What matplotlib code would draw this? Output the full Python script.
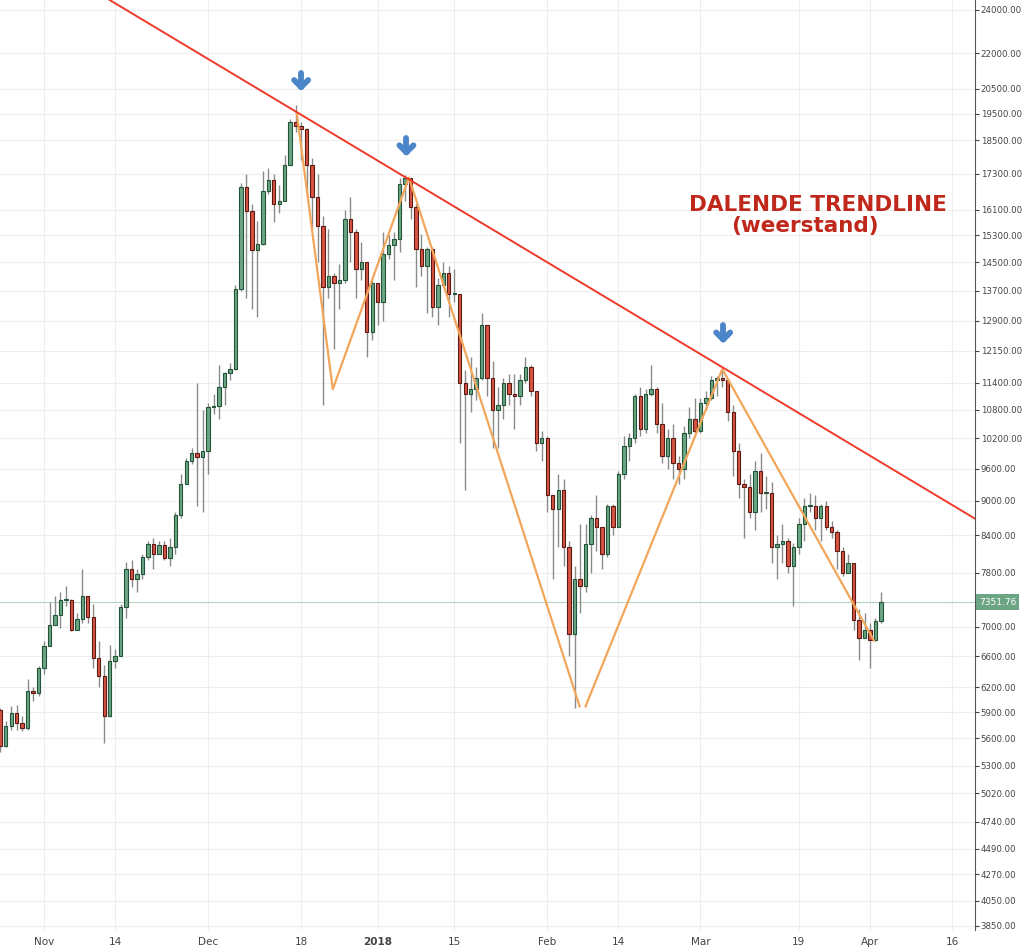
import matplotlib
matplotlib.use("Agg")
import matplotlib.pyplot as plt
import matplotlib.dates as mdates
from matplotlib.lines import Line2D
import numpy as np

start_date = "2017-10-24"
first_open = 5930
closes = [5520,5740,5890,5770,5720,6150,6130,6450,
 6740,7030,7160,7380,7380,6960,7110,7440,7130,6580,6340,5860,6540,6600,7280,7850,7700,7780,8040,8250,8100,8240,8030,8200,8750,9300,9740,9900,9830,9940,
 10860,10880,11290,11630,11720,13750,16850,16050,14850,15050,16700,17100,16300,16400,17600,19200,19040,18900,17600,16500,15600,13800,14100,13900,14000,15800,15400,14300,14500,12600,13900,
 13400,14750,15000,15200,16950,17150,16200,14900,14400,14900,13250,13850,14200,13600,13600,11400,11150,11250,11500,12800,11500,10800,10900,11400,11150,11100,11450,11750,11200,10100,10200,
 9100,8850,9200,8200,6900,7700,7600,8250,8700,8550,8100,8900,8550,9500,10050,10200,11100,10400,11150,11250,10500,9850,10200,9700,9600,10300,10600,10350,
 10950,11050,11450,11500,11450,10750,9950,9300,9250,8800,9550,9150,9150,8200,8260,8300,7900,8200,8600,8900,8900,8700,8900,8550,8450,8150,7800,7950,7100,6850,6950,
 6820,7080,7351.76]
highs = [5950,5800,5980,5990,5860,6300,6200,6470,
 6800,7350,7450,7500,7600,7400,7200,7850,7450,7330,6800,6480,6750,6700,7330,7960,8000,7850,8100,8300,8350,8300,8300,8350,8800,9500,9800,10000,11400,10800,
 10950,11150,11800,11650,11850,13850,17000,17300,16300,15750,17400,17500,17300,16900,17950,19300,19850,19200,18950,17850,17300,15900,15500,14200,14450,16100,16500,15500,15100,14500,14000,
 13900,15400,15300,15400,17150,17250,17100,16300,15350,14950,14950,14050,14500,14400,14300,13600,11700,12000,11750,13100,12800,11900,11300,11500,11600,11600,11600,12000,11800,11200,10350,
 10250,9100,9500,9400,8300,7900,8600,8600,8750,9100,8550,8950,8950,9550,10250,10300,11150,11300,11250,11800,11300,10950,10400,10500,9850,10450,10850,11050,
 11050,11200,11550,11550,11700,11450,10900,10100,9400,9500,9750,9900,9450,9350,8400,8600,8350,8280,8700,9050,9150,9100,8950,9000,8650,8500,8200,8100,7950,7250,7200,
 7050,7120,7500]
lows = [5450,5500,5700,5700,5680,5700,6030,6100,
 6370,6750,7020,6980,7300,6940,6950,7050,7050,6450,6200,5550,5850,6450,6600,7120,7580,7500,7700,7990,7850,8100,8000,7900,8100,8700,9300,9680,8900,8800,
 9500,10700,10600,10900,11450,11700,13700,13500,13200,13000,15000,16600,15700,16000,16400,17600,18800,17800,16500,15500,14500,10900,13500,12200,13200,13900,14500,13500,14000,12000,12400,
 12800,12900,14600,14000,14800,16400,15800,13800,14100,13100,13000,12800,13800,13000,13400,10100,9200,10750,11000,11450,11100,10000,10000,10600,10900,10400,10900,11400,11100,9950,9750,
 8800,7700,8200,7900,6600,5950,7200,7500,7800,8150,7850,8050,8400,8550,9400,9750,10100,10250,10300,11100,10300,9700,9600,9400,9300,9400,10200,10300,
 10300,10800,11000,11100,11300,10550,9450,9050,8350,8700,8500,8800,8850,7950,7700,7950,7800,7300,8100,8300,8800,8500,8300,8500,8350,7850,7750,7800,6950,6550,6850,
 6450,6800,7050]

yticks = [24000,22000,20500,19500,18500,17300,16100,15300,14500,13700,12900,12150,11400,10800,10200,9600,9000,8400,7800,7000,6600,6200,5900,5600,5300,5020,4740,4490,4270,4050,3850]
xtick_dates = ["2017-11-01","2017-11-14","2017-12-01","2017-12-18","2018-01-01","2018-01-15","2018-02-01","2018-02-14","2018-03-01","2018-03-19","2018-04-01","2018-04-16"]
xtick_labels = ["Nov","14","Dec","18","2018","15","Feb","14","Mar","19","Apr","16"]

trend_dates = ["2017-11-13","2018-04-20 04:48"]
trend_prices = [24480, 8686]
zig_dates = [["2017-12-17 05:00","2017-12-23 19:00","2018-01-06 17:00","2018-02-06 22:00"],
             ["2018-02-08","2018-03-05","2018-04-01 17:00"]]
zig_prices = [[19540,11250,17170,5970],[5970,11710,6810]]
arrow_dates = ["2017-12-18","2018-01-06 06:00","2018-03-05 04:00"]
arrow_tip_prices = [20450, 17950, 12350]

d0 = mdates.datestr2num(start_date)
x = d0 + np.arange(len(closes))
opens = np.concatenate([[first_open], closes[:-1]])
closes_a = np.array(closes)

fig = plt.figure(figsize=(10.24, 9.47), dpi=100)
ax = fig.add_axes([0, 1-930/947, 975/1024, 930/947])
ax.set_yscale('log')
ax.set_ylim(3819, 24480)
ax.set_xlim(mdates.datestr2num("2018-04-01") - 159.05, mdates.datestr2num("2018-04-01") + 19.2)

for yt in yticks:
    ax.axhline(yt, color='#eeeeee', lw=0.8, zorder=0)
for xd in xtick_dates:
    ax.axvline(mdates.datestr2num(xd), color='#eeeeee', lw=0.8, zorder=0)

up = closes_a >= opens
ax.vlines(x, lows, highs, color='#8a8a8a', lw=1.0, zorder=2)
w = 0.62
bottoms = np.minimum(opens, closes_a)
heights = np.abs(closes_a - opens)
heights = np.maximum(heights, bottoms * 0.002)
ax.bar(x[up], heights[up], bottom=bottoms[up], width=w, color='#6ba583', edgecolor='#225437', lw=0.8, zorder=3)
ax.bar(x[~up], heights[~up], bottom=bottoms[~up], width=w, color='#d75442', edgecolor='#5b1a13', lw=0.8, zorder=3)

last = closes[-1]
ax.axhline(last, color='#b5d3c3', lw=0.8, zorder=1)

ax.plot(mdates.datestr2num(trend_dates), trend_prices, color='#ee3a2a', lw=1.4, zorder=5)
for dl, pl in zip(zig_dates, zig_prices):
    ax.plot(mdates.datestr2num(dl), pl, color='#f2a65a', lw=1.6, zorder=4)

for ad, tp in zip(arrow_dates, arrow_tip_prices):
    tx, ty = ax.transData.transform((mdates.datestr2num(ad), tp))
    segs = [((tx, ty + 3), (tx, ty + 17)), ((tx, ty + 3), (tx - 7, ty + 10)), ((tx, ty + 3), (tx + 7, ty + 10))]
    for (a, b) in segs:
        fig.add_artist(Line2D([a[0], b[0]], [a[1], b[1]], transform=None, color='#4a86c8', lw=4.2,
                              solid_capstyle='round', zorder=6))

ax.text(818/975, 1 - 205/930, "DALENDE TRENDLINE", transform=ax.transAxes, ha='center', va='center',
        fontsize=15.5, fontweight='bold', color='#c0281c', family='DejaVu Sans')
ax.text(805/975, 1 - 226/930, "(weerstand)", transform=ax.transAxes, ha='center', va='center',
        fontsize=15.5, fontweight='bold', color='#c0281c', family='DejaVu Sans')

ax.yaxis.tick_right()
ax.set_yticks(yticks)
ax.set_yticklabels([f"{v:.2f}" for v in yticks])
ax.yaxis.set_minor_locator(matplotlib.ticker.NullLocator())
ax.tick_params(axis='y', labelsize=6.2, colors='#444444', length=3, pad=1, direction='out')
ax.set_xticks(mdates.datestr2num(xtick_dates))
ax.set_xticklabels(xtick_labels)
ax.tick_params(axis='x', labelsize=7.5, colors='#444444', length=0, pad=5)
for lbl in ax.get_xticklabels():
    if lbl.get_text() == "2018":
        lbl.set_fontweight('bold')
for s in ['top', 'left', 'bottom']:
    ax.spines[s].set_visible(False)
ax.spines['right'].set_color('#555555')

ax.text(1.004, last, f"{last:.2f}", transform=ax.get_yaxis_transform(), ha='left', va='center',
        fontsize=6.5, color='white', bbox=dict(boxstyle='square,pad=0.35', fc='#6ba583', ec='none'), zorder=10)

fig.savefig("out.png", dpi=100)
